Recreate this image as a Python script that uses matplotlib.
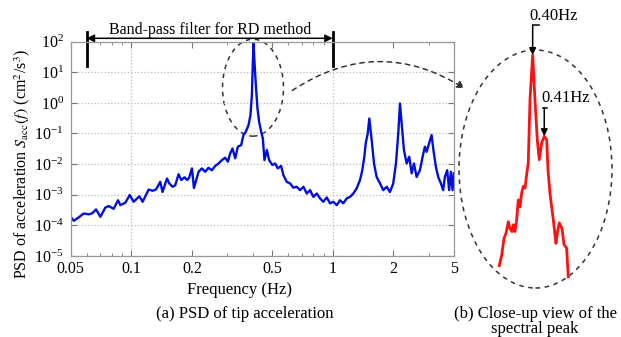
import numpy as np
import matplotlib
matplotlib.use("Agg")
import matplotlib.pyplot as plt
from matplotlib.patches import Ellipse, FancyArrowPatch
from matplotlib.ticker import NullLocator, NullFormatter, LogLocator

plt.rcParams['font.family'] = ['Liberation Serif', 'DejaVu Serif']
plt.rcParams['mathtext.fontset'] = 'stix'

# PSD of tip acceleration, frequency in Hz, PSD as log10(cm^2/s^3)
freq = [0.050, 0.0518, 0.0548, 0.0580, 0.0614, 0.0638, 0.0668, 0.0702, 0.0743, 0.0772,
        0.0817, 0.0859, 0.0882, 0.0934, 0.0981, 0.1027, 0.1096, 0.1138, 0.1219, 0.1275,
        0.1326, 0.1392, 0.1429, 0.1503, 0.1543, 0.1602, 0.1652, 0.1716, 0.177, 0.1837,
        0.1895, 0.194, 0.200, 0.2046,
        0.2157, 0.2241, 0.2327, 0.2416, 0.2512, 0.2609, 0.2709, 0.2816, 0.2924, 0.3016,
        0.3096, 0.3178, 0.3279, 0.3381, 0.351, 0.3603, 0.3703, 0.3816, 0.3904, 0.3967,
        0.4012, 0.404, 0.4087, 0.4152, 0.4229, 0.4311, 0.441, 0.4497, 0.458, 0.4708,
        0.4833, 0.5017, 0.5174, 0.5337, 0.5542, 0.5689, 0.5912, 0.6139, 0.6376,
        0.6628, 0.6884, 0.7148, 0.7431, 0.7717, 0.8013, 0.8329, 0.865, 0.8982, 0.9338,
        0.9696, 1.007, 1.0467, 1.087, 1.1287, 1.173, 1.218, 1.265, 1.315, 1.366,
        1.402, 1.435, 1.458, 1.492, 1.519, 1.561, 1.603, 1.652, 1.716, 1.782,
        1.852, 1.923, 1.997, 2.060, 2.115, 2.157, 2.199, 2.257, 2.328, 2.398,
        2.465, 2.530, 2.609, 2.709, 2.794, 2.868, 2.924, 3.012, 3.096, 3.153,
        3.252, 3.339, 3.443, 3.534, 3.604, 3.700, 3.785, 3.860, 3.935, 3.994]
psd_log = [-3.72, -3.85, -3.74, -3.61, -3.64, -3.61, -3.48, -3.72, -3.42, -3.37,
           -3.46, -3.18, -3.34, -3.26, -3.01, -3.23, -3.05, -3.23, -2.83, -2.87,
           -2.83, -2.58, -2.91, -2.47, -2.63, -2.74, -2.69, -2.33, -2.52, -2.43,
           -2.52, -2.43, -2.14, -2.78,
           -2.25, -2.14, -2.25, -2.12, -2.20, -2.06, -1.98, -1.87, -1.79, -1.92,
           -1.65, -1.49, -1.81, -1.43, -1.38, -1.05, -0.94, -0.73, -0.40, 0.25,
           1.34, 1.98, 1.34, 0.58, -0.18, -0.62, -0.94, -1.16, -1.87, -1.54,
           -1.87, -2.03, -1.98, -2.14, -2.06, -2.36, -2.58, -2.63, -2.77,
           -2.74, -2.85, -2.74, -2.96, -2.85, -3.07, -2.96, -3.12, -3.23, -3.09,
           -3.28, -3.23, -3.34, -3.18, -3.28, -3.12, -3.07, -2.96, -2.79, -2.52,
           -2.20, -1.76, -1.32, -1.00, -0.51, -1.22, -1.98, -2.42, -2.63, -2.85,
           -2.74, -2.91, -2.63, -1.98, -1.00, -0.02, -0.67, -1.54, -1.98, -1.76,
           -2.30, -1.98, -2.42, -2.20, -1.76, -1.43, -1.60, -1.32, -1.05, -1.49,
           -2.09, -2.42, -2.63, -2.85, -2.42, -2.20, -2.85, -2.25, -2.85, -2.30]

# close-up of the spectral peak
inset_freq = [0.3712, 0.3733, 0.3753, 0.3770, 0.3790, 0.3804, 0.3822, 0.3833, 0.3847, 0.3862,
              0.3876, 0.3891, 0.3905, 0.3919, 0.3934, 0.3948, 0.3962, 0.3977, 0.4000, 0.4020,
              0.4040, 0.4057, 0.4078, 0.4100, 0.4121, 0.4132, 0.4149, 0.4178, 0.4201, 0.4212,
              0.4229, 0.4253, 0.4270, 0.4287, 0.4293, 0.4307]
inset_log = [-1.45, -1.28, -1.01, -0.93, -0.74, -0.85, -0.90, -0.79, -0.90, -0.71,
             -0.39, -0.50, -0.28, -0.17, -0.20, 0.02, 0.20, 1.22, 1.95, 1.22,
             0.58, 0.26, 0.53, 0.64, 0.58, 0.10, -0.28, -0.71, -1.09, -0.93,
             -0.76, -0.85, -1.11, -1.15, -1.17, -1.63]

xtick_pos = [0.05, 0.1, 0.2, 0.5, 1, 2, 4]
xtick_labels = ['0.05', '0.1', '0.2', '0.5', '1', '2', '5']
ytick_pos = [1e-5, 1e-4, 1e-3, 1e-2, 1e-1, 1e0, 1e1, 1e2]
band = [0.06, 1.0]
peak_labels = ['0.40Hz', '0.41Hz']

psd = 10.0 ** np.array(psd_log)
inset_psd = 10.0 ** np.array(inset_log)

W, H = 621, 337
fig = plt.figure(figsize=(W / 100, H / 100), dpi=100)
ax = fig.add_axes([70.7 / W, 1 - 256 / H, 383.3 / W, 214.4 / H])

ax.plot(freq, psd, color='#0010dc', lw=1.7)
ax.set_xscale('log')
ax.set_yscale('log')
ax.set_xlim(0.05, 4.0)
ax.set_ylim(1e-5, 1e2)
ax.set_xticks(xtick_pos)
ax.set_xticklabels(xtick_labels)
ax.xaxis.set_minor_locator(LogLocator(subs=np.arange(2, 10)))
ax.xaxis.set_minor_formatter(NullFormatter())
ax.set_yticks(ytick_pos)
ax.yaxis.set_minor_locator(NullLocator())
ax.tick_params(which='both', direction='in', top=True, right=True, labelsize=11.5,
               color='#777777')
ax.tick_params(which='major', length=4)
ax.tick_params(which='minor', length=2.5)
ax.tick_params(axis='y', pad=5)
for s in ax.spines.values():
    s.set_color('#999999')
    s.set_linewidth(0.9)
ax.grid(True, axis='y', which='major', linestyle=':', color='#bbbbbb', lw=0.9)
for xv in [0.1, 1]:
    ax.axvline(xv, linestyle=':', color='#bbbbbb', lw=0.9, zorder=0)

ax.set_xlabel('Frequency (Hz)', fontsize=12)
ax.xaxis.set_label_coords(0.44, -0.12)
ax.set_ylabel(r'PSD of acceleration $S_{\mathrm{acc}}(f)$ (cm$^2$/s$^3$)', fontsize=11.5)
ax.yaxis.set_label_coords(-0.10, 0.43)

# band-pass filter range
for xv in band:
    ax.plot([xv, xv], [10 ** 1.21, 10 ** 2.32], color='black', lw=2, clip_on=False)
ax.annotate('', xy=(band[0], 10 ** 2.108), xytext=(band[1], 10 ** 2.108),
            arrowprops=dict(arrowstyle='<|-|>', color='black', lw=1.1,
                            mutation_scale=11, shrinkA=0, shrinkB=0),
            annotation_clip=False)
ax.text(0.2464, 10 ** 2.38, 'Band-pass filter for RD method', ha='center', va='center',
        fontsize=11.5)

# dashed ellipse around the peak
ax.add_patch(Ellipse((0.4756, 0.785), 0.159, 0.452, transform=ax.transAxes, fill=False,
                     linestyle=(0, (3, 3)), color='#333333', lw=1.1, clip_on=False))

# close-up axes
ax_in = fig.add_axes([459 / W, 1 - 288 / H, 153 / W, 238 / H])
ax_in.plot(inset_freq, inset_psd, color='#ff1010', lw=2)
ax_in.set_yscale('log')
ax_in.set_xlim(0.3365, 0.4684)
ax_in.set_ylim(10 ** -1.81, 10 ** 2.03)
ax_in.axis('off')
ax_in.add_patch(Ellipse((0.5, 0.5), 1, 1, transform=ax_in.transAxes, fill=False,
                        linestyle=(0, (3, 3)), color='#333333', lw=1.1, clip_on=False))

# peak markers
i1 = int(np.argmax(inset_psd))
i2 = inset_freq.index(0.4100)
for idx, lab, rise, dx, tx in [(i1, peak_labels[0], 0.48, 0.0057, -0.0029),
                               (i2, peak_labels[1], 0.46, 0.0021, -0.0022)]:
    fx, py = inset_freq[idx], inset_psd[idx]
    top = py * 10 ** rise
    ax_in.annotate('', xy=(fx, py), xytext=(fx, top),
                   arrowprops=dict(arrowstyle='-|>', color='black', lw=1.1,
                                   mutation_scale=10, shrinkA=0, shrinkB=0),
                   annotation_clip=False)
    ax_in.plot([fx - 0.0012 if idx == i2 else fx, fx + dx], [top, top], color='black',
               lw=1.1, clip_on=False)
    ax_in.text(fx + tx, top * 10 ** 0.02, lab, ha='left', va='bottom', fontsize=12,
               clip_on=False)

# curved arrow from left ellipse to close-up
arc = FancyArrowPatch((290 / W, 1 - 92 / H), (467 / W, 1 - 90 / H),
                      transform=fig.transFigure, connectionstyle='arc3,rad=-0.33',
                      arrowstyle='-|>', mutation_scale=11, color='#333333',
                      linestyle=(0, (3, 3)), lw=1.1)
fig.patches.append(arc)

fig.text(245 / W, 1 - 314 / H, '(a) PSD of tip acceleration', ha='center', va='center',
         fontsize=12)
fig.text(535 / W, 1 - 314 / H, '(b) Close-up view of the', ha='center', va='center',
         fontsize=12)
fig.text(535 / W, 1 - 329 / H, 'spectral peak', ha='center', va='center', fontsize=12)

fig.savefig('out.png', dpi=100)
